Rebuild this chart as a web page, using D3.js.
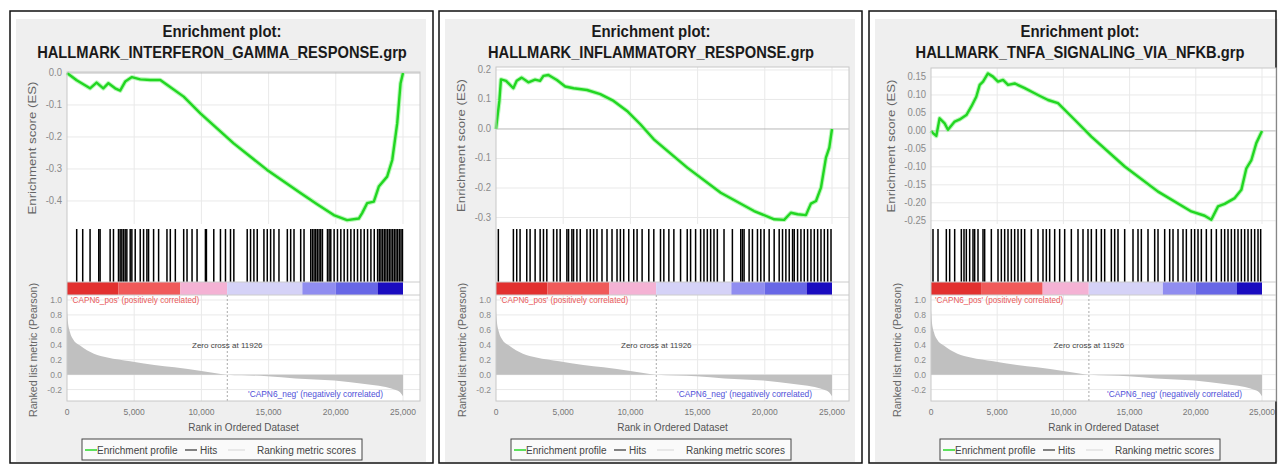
<!DOCTYPE html>
<html><head><meta charset="utf-8">
<script src="https://cdn.jsdelivr.net/npm/d3@7"></script>
<style>html,body{margin:0;padding:0;background:#fff;} svg{display:block;} text{font-family:"Liberation Sans",Arial,sans-serif;}</style>
</head><body><svg id="c" width="1278" height="464"></svg>
<script>
// ---------------- DATA ----------------
const totalRanks = 25000;
const titleLine1 = "Enrichment plot:";
const geneSetNames = ["HALLMARK_INTERFERON_GAMMA_RESPONSE.grp", "HALLMARK_INFLAMMATORY_RESPONSE.grp", "HALLMARK_TNFA_SIGNALING_VIA_NFKB.grp"];

const esRanks1 = [0,720,1716,2200,2700,3080,3580,3955,4330,4830,5450,6200,6940,7440,8680,9920,12400,14890,17370,18610,19850,20840,21710,21960,22330,22830,23200,23820,24200,24570,24820,25000];
const esValues1 = [0,-0.023,-0.048,-0.03,-0.048,-0.032,-0.048,-0.055,-0.027,-0.013,-0.02,-0.022,-0.022,-0.037,-0.074,-0.126,-0.22,-0.303,-0.375,-0.41,-0.444,-0.46,-0.455,-0.438,-0.407,-0.402,-0.355,-0.324,-0.272,-0.157,-0.032,0.0];

const esRanks2 = [0,250,370,750,1290,1540,1910,2410,2910,3280,3530,3900,4530,5150,5770,6770,7760,8750,9750,10740,11740,14230,16720,19200,20700,21440,21940,22440,23060,23430,23810,24180,24550,24800,25000];
const esValues2 = [0,0.095,0.168,0.163,0.138,0.163,0.174,0.158,0.167,0.163,0.18,0.183,0.166,0.144,0.138,0.132,0.118,0.095,0.061,0.016,-0.035,-0.131,-0.216,-0.278,-0.306,-0.308,-0.284,-0.289,-0.292,-0.253,-0.244,-0.199,-0.097,-0.063,0.0];

const esRanks3 = [0,150,400,650,1030,1280,1790,2170,2670,3050,3420,3680,3930,4300,4680,5060,5440,5820,6320,7080,8080,8840,9590,10850,12110,14630,17150,19660,20670,21170,21680,22180,22940,23440,23820,24200,24570,25000];
const esValues3 = [0.0,-0.006,-0.014,0.035,0.021,0.003,0.026,0.032,0.044,0.068,0.095,0.128,0.137,0.16,0.151,0.137,0.142,0.128,0.132,0.119,0.1,0.086,0.077,0.031,-0.016,-0.099,-0.169,-0.224,-0.236,-0.247,-0.21,-0.203,-0.187,-0.164,-0.104,-0.081,-0.034,0.0];

const hits1 = [721,1169,1716,2363,2463,3209,3458,3831,3955,4080,4204,4329,4453,4702,4826,5075,5448,5697,5946,6070,6443,6816,7438,7687,8060,8682,8931,9304,9677,10299,10373,10921,11418,11792,12165,12414,13409,13657,13906,14155,14652,14901,15150,15398,15771,16393,16642,16891,17388,17637,18135,18259,18384,18508,18630,18757,18881,19006,19379,19503,19627,19876,20125,20374,20622,20871,21120,21369,21617,21866,22115,22364,22612,22861,23110,23240,23359,23480,23607,23730,23856,23980,24105,24230,24354,24480,24602,24730,24851,24960];
const hits2 = [174,1294,1542,1791,2289,2537,2911,3284,3532,3781,4279,4528,4776,5274,5398,5647,5771,6020,6269,6766,7015,7264,7513,7886,8259,8632,9005,9254,9502,9876,10249,10498,10871,11368,11742,12239,12488,12861,13234,13732,14229,14478,14851,15224,15473,15722,15971,16219,16468,16966,17588,18210,18334,18459,18832,19081,19454,19702,19951,20324,20697,21070,21319,21568,21817,22066,22190,22439,22688,22936,23185,23434,23683,23932,24180,24429,24678,24926];
const hits3 = [151,529,1158,1410,1788,2291,2492,2669,2920,3172,3298,3550,3928,4053,4557,5061,5312,5564,5816,6068,6320,6571,6823,7075,7578,8082,8459,8711,8963,9341,9718,10096,10600,11103,11481,11858,12110,12488,12866,13117,13621,13873,14124,14628,15257,15635,15887,16390,16894,17146,17649,18027,18279,18656,19034,19286,19663,19915,20167,20419,20796,21174,21552,21929,22181,22433,22685,22936,23188,23440,23692,23944,24195,24447,24699,24900];

const metricRanks = [0,60,220,500,970,2000,3000,4700,6500,8000,10000,11926,14900,17000,19900,22300,23500,24350,24800,25000];
const metricValues = [0.86,0.72,0.57,0.46,0.39,0.28,0.23,0.18,0.13,0.1,0.05,0.0,-0.02,-0.05,-0.08,-0.13,-0.16,-0.2,-0.24,-0.29];
const zeroCrossRank = 11926;

const stripStarts = [0,3831,8433,11915,17512,20000,23110];
const stripColors = ["#e2302f","#f05a5a","#f4b2d4","#d5d2f7","#908df0","#6867e6","#1a0cc0"];

const esTicks1 = [0,-0.1,-0.2,-0.3,-0.4];
const esTicks2 = [0.2,0.1,0,-0.1,-0.2,-0.3];
const esTicks3 = [0.15,0.10,0.05,0,-0.05,-0.10,-0.15,-0.20,-0.25];
const xTicks = [0,5000,10000,15000,20000,25000];
const metricTicks = [1.0,0.8,0.6,0.4,0.2,0.0,-0.2];
const posLabel = "'CAPN6_pos' (positively correlated)";
const negLabel = "'CAPN6_neg' (negatively correlated)";
const legendLabels = ["Enrichment profile", "Hits", "Ranking metric scores"];

// ---------------- LAYOUT ----------------
const panels = [
  {name: geneSetNames[0], esR: esRanks1, esV: esValues1, hits: hits1, ticks: esTicks1, digits: 1, esDomain: [-0.472, 0.003],
   frameX: 10, frameR: 433, bgX: 16, bgR: 426, plotL: 67, plotR: 420, xEnd: 403, esTop: 72, titleCx: 222, legX: 82},
  {name: geneSetNames[1], esR: esRanks2, esV: esValues2, hits: hits2, ticks: esTicks2, digits: 1, esDomain: [-0.322, 0.21],
   frameX: 439, frameR: 862, bgX: 445, bgR: 855, plotL: 496, plotR: 849, xEnd: 832, esTop: 67, titleCx: 651, legX: 511},
  {name: geneSetNames[2], esR: esRanks3, esV: esValues3, hits: hits3, ticks: esTicks3, digits: 2, esDomain: [-0.259, 0.175],
   frameX: 869, frameR: 1276, bgX: 875, bgR: 1278, plotL: 931, plotR: 1276, xEnd: 1262, esTop: 68, titleCx: 1080, legX: 940}
];
const esBottom = 224, hitsTop = 229, hitsBottom = 282, stripBottom = 295, metricBottom = 401;
const metricDomain = [-0.353, 1.067];

const svg = d3.select("#c");
const fmtX = d3.format(",");

panels.forEach(p => {
  const g = svg.append("g");
  g.append("rect").attr("x", p.bgX).attr("y", 19).attr("width", p.bgR - p.bgX).attr("height", 443).attr("fill", "#efefef");
  g.append("rect").attr("x", p.frameX).attr("y", 11).attr("width", p.frameR - p.frameX).attr("height", 452)
    .attr("fill", "none").attr("stroke", "#111").attr("stroke-width", 1.5);

  g.append("text").attr("transform", `translate(${p.titleCx},37) scale(1,1.15)`).attr("text-anchor", "middle")
    .attr("font-size", 15).attr("font-weight", "bold").attr("fill", "#1a1a1a").text(titleLine1);
  g.append("text").attr("transform", `translate(${p.titleCx},58) scale(1,1.15)`).attr("text-anchor", "middle")
    .attr("font-size", 14.7).attr("font-weight", "bold").attr("fill", "#1a1a1a").text(p.name);

  const x = d3.scaleLinear().domain([0, totalRanks]).range([p.plotL, p.xEnd]);
  const yES = d3.scaleLinear().domain(p.esDomain).range([esBottom, p.esTop]);
  const yM = d3.scaleLinear().domain(metricDomain).range([metricBottom, stripBottom]);

  g.append("rect").attr("x", p.plotL).attr("y", p.esTop).attr("width", p.plotR - p.plotL).attr("height", metricBottom - p.esTop).attr("fill", "#fff");

  const grid = g.append("g").attr("stroke", "#e9e9e9").attr("stroke-width", 1);
  xTicks.slice(1).forEach(t => {
    grid.append("line").attr("x1", x(t)).attr("x2", x(t)).attr("y1", p.esTop).attr("y2", esBottom);
    grid.append("line").attr("x1", x(t)).attr("x2", x(t)).attr("y1", stripBottom).attr("y2", metricBottom);
  });
  p.ticks.forEach(t => {
    grid.append("line").attr("x1", p.plotL).attr("x2", p.plotR).attr("y1", yES(t)).attr("y2", yES(t))
      .attr("stroke", t === 0 ? "#b8b8b8" : "#e9e9e9");
  });
  metricTicks.forEach(t => {
    grid.append("line").attr("x1", p.plotL).attr("x2", p.plotR).attr("y1", yM(t)).attr("y2", yM(t));
  });

  p.ticks.forEach(t => {
    g.append("text").attr("transform", `translate(${p.plotL - 5},${yES(t) + 3}) scale(1,1.12)`).attr("text-anchor", "end")
      .attr("font-size", 9.5).attr("fill", "#8a8a8a").text(t.toFixed(p.digits));
  });
  g.append("text").attr("transform", `translate(${p.frameX + 26},${(p.esTop + esBottom) / 2}) rotate(-90)`)
    .attr("text-anchor", "middle").attr("font-size", 11).attr("fill", "#666")
    .attr("textLength", 133).attr("lengthAdjust", "spacingAndGlyphs").text("Enrichment score (ES)");

  const esData = p.esR.map((r, i) => [r, p.esV[i]]);
  const esLine = d3.line().x(d => x(d[0])).y(d => yES(d[1]));
  g.append("path").datum(esData).attr("fill", "none").attr("stroke", "#9cf59c").attr("stroke-width", 4.5).attr("opacity", 0.7)
    .attr("stroke-linejoin", "round").attr("d", esLine);
  g.append("path").datum(esData).attr("fill", "none").attr("stroke", "#22d622").attr("stroke-width", 2.4)
    .attr("stroke-linejoin", "round").attr("d", esLine);

  g.append("g").selectAll("line").data(p.hits).join("line")
    .attr("x1", d => x(d)).attr("x2", d => x(d)).attr("y1", hitsTop).attr("y2", hitsBottom)
    .attr("stroke", "#000").attr("stroke-width", 1.5);

  g.append("g").selectAll("rect").data(stripStarts).join("rect")
    .attr("x", d => x(d)).attr("y", hitsBottom)
    .attr("width", (d, i) => x(i + 1 < stripStarts.length ? stripStarts[i + 1] : totalRanks) - x(d))
    .attr("height", stripBottom - hitsBottom)
    .attr("fill", (d, i) => stripColors[i]);
  g.append("line").attr("x1", p.plotL).attr("x2", p.plotR).attr("y1", hitsBottom).attr("y2", hitsBottom).attr("stroke", "#ccc");
  g.append("line").attr("x1", p.plotL).attr("x2", p.plotR).attr("y1", stripBottom).attr("y2", stripBottom).attr("stroke", "#ccc");

  const mData = metricRanks.map((r, i) => [r, metricValues[i]]);
  g.append("path").datum(mData).attr("fill", "#c0c0c0")
    .attr("d", d3.area().curve(d3.curveMonotoneX).x(d => x(d[0])).y0(yM(0)).y1(d => yM(d[1])));

  g.append("line").attr("x1", x(zeroCrossRank)).attr("x2", x(zeroCrossRank)).attr("y1", stripBottom).attr("y2", metricBottom)
    .attr("stroke", "#aaa").attr("stroke-dasharray", "2,2");
  g.append("text").attr("x", x(zeroCrossRank)).attr("y", yM(0.36)).attr("text-anchor", "middle")
    .attr("font-size", 8).attr("fill", "#444").text("Zero cross at " + zeroCrossRank);
  g.append("text").attr("x", p.plotL + 4).attr("y", yM(1.0) + 3).attr("font-size", 8.2).attr("fill", "#e85a5a").text(posLabel);
  g.append("text").attr("x", x(totalRanks) - 20).attr("y", yM(-0.3)).attr("text-anchor", "end")
    .attr("font-size", 8.4).attr("fill", "#5050d8").text(negLabel);

  metricTicks.forEach(t => {
    g.append("text").attr("x", p.plotL - 5).attr("y", yM(t) + 3).attr("text-anchor", "end")
      .attr("font-size", 8.5).attr("fill", "#8a8a8a").text(t.toFixed(1));
  });
  g.append("text").attr("transform", `translate(${p.plotL - 30},${350}) rotate(-90)`)
    .attr("text-anchor", "middle").attr("font-size", 10.5).attr("fill", "#666")
    .attr("textLength", 134).attr("lengthAdjust", "spacingAndGlyphs").text("Ranked list metric (Pearson)");

  g.append("rect").attr("x", p.plotL).attr("y", p.esTop).attr("width", p.plotR - p.plotL).attr("height", metricBottom - p.esTop)
    .attr("fill", "none").attr("stroke", "#c8c8c8");

  xTicks.forEach(t => {
    g.append("text").attr("x", x(t)).attr("y", 415).attr("text-anchor", "middle")
      .attr("font-size", 8.5).attr("fill", "#777").text(fmtX(t));
  });
  g.append("text").attr("x", (p.plotL + p.plotR) / 2).attr("y", 431).attr("text-anchor", "middle")
    .attr("font-size", 10).attr("fill", "#555").text("Rank in Ordered Dataset");

  const lg = g.append("g").attr("transform", `translate(${p.legX},439)`);
  lg.append("rect").attr("width", 280).attr("height", 21).attr("fill", "#fafafa").attr("stroke", "#444");
  lg.append("line").attr("x1", 3).attr("x2", 15).attr("y1", 11).attr("y2", 11).attr("stroke", "#28d828").attr("stroke-width", 1.5);
  lg.append("text").attr("x", 15).attr("y", 14.5).attr("font-size", 10).attr("fill", "#444").text(legendLabels[0]);
  lg.append("line").attr("x1", 103).attr("x2", 115).attr("y1", 11).attr("y2", 11).attr("stroke", "#333").attr("stroke-width", 1.2);
  lg.append("text").attr("x", 118).attr("y", 14.5).attr("font-size", 10).attr("fill", "#444").text(legendLabels[1]);
  lg.append("line").attr("x1", 146).attr("x2", 163).attr("y1", 11).attr("y2", 11).attr("stroke", "#ddd").attr("stroke-width", 1.2);
  lg.append("text").attr("x", 175).attr("y", 14.5).attr("font-size", 10).attr("fill", "#444").text(legendLabels[2]);
});
</script></body></html>
